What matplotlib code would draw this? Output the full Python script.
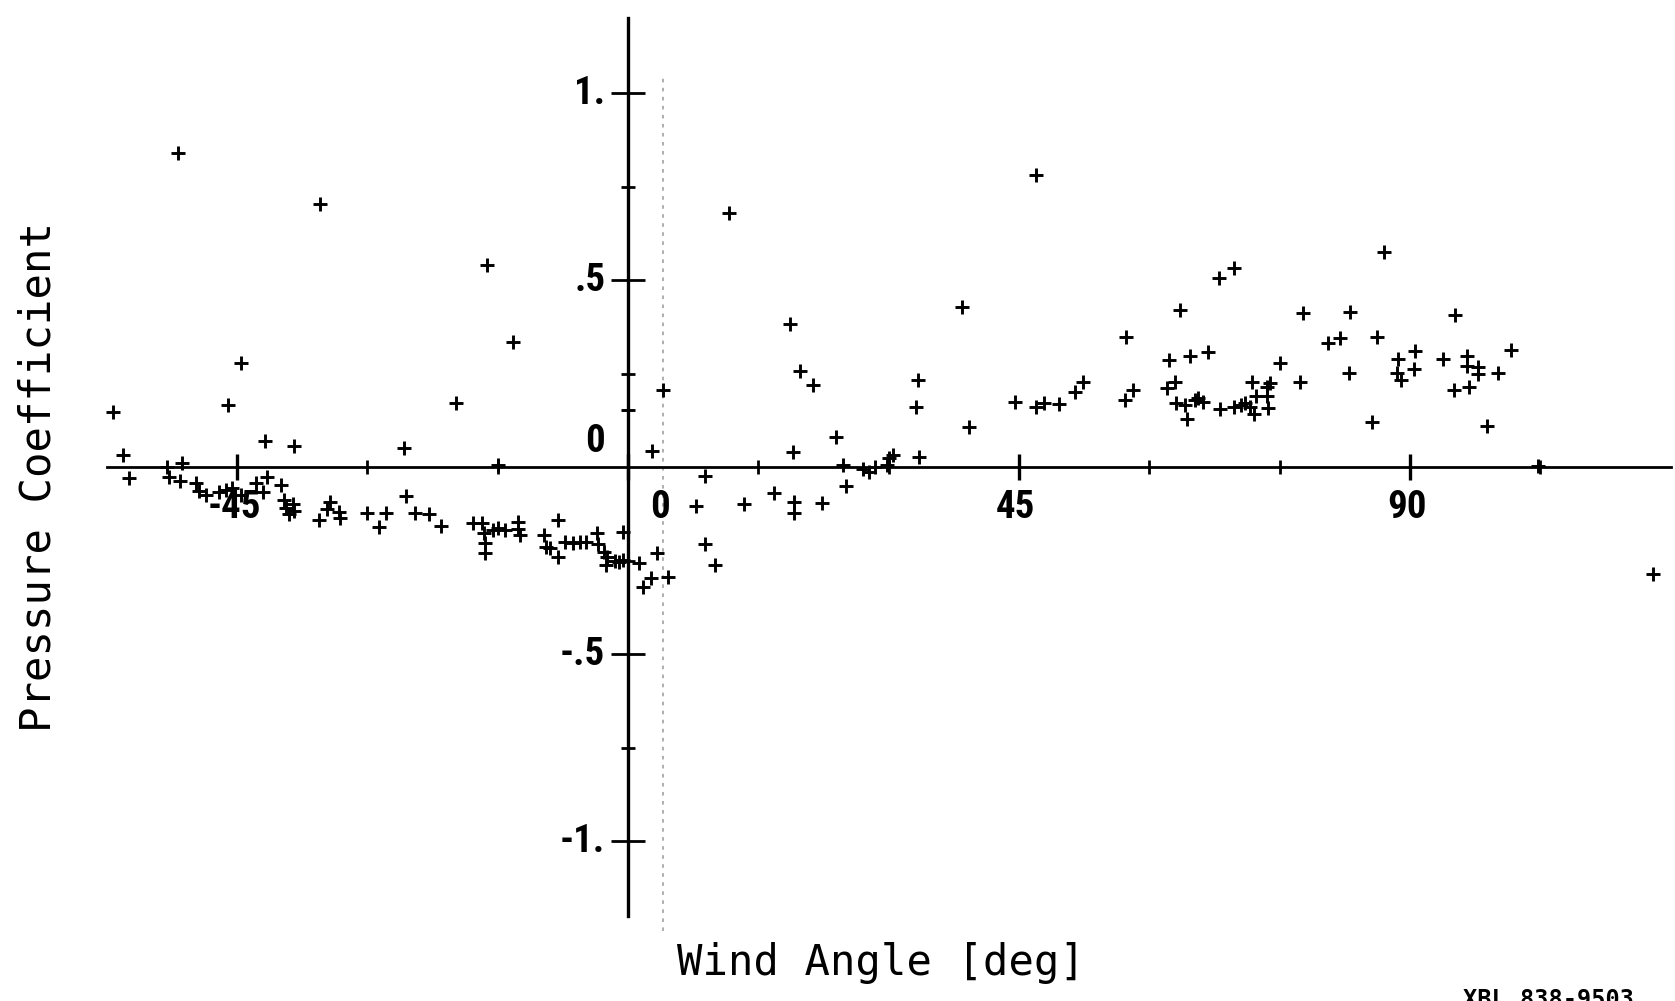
import numpy as np
import matplotlib
matplotlib.use("Agg")
import matplotlib.pyplot as plt
from matplotlib import font_manager

# data
wind_angle = [
    -59.3, -58.1, -57.4, -53.0, -52.8, -51.8, -51.3, -51.5, -49.7, -49.4,
    -48.6, -47.1, -46.3, -45.6, -44.5, -46.0, -44.5, -42.8, -41.5, -42.0,
    -41.8, -39.9, -39.6, -39.4, -38.6, -38.4, -39.0, -38.4, -35.4, -35.5,
    -34.3, -34.6, -33.2, -33.1, -30.0, -28.7, -27.8, -25.8, -25.5, -24.5,
    -22.9, -21.5, -19.8, -17.8, -16.8, -16.6, -16.5, -16.5, -16.2, -15.5,
    -15.0, -14.9, -14.2, -13.2, -12.6, -12.6, -12.4, -9.7, -9.4, -9.0,
    -8.0, -8.0, -7.2, -6.3, -5.5, -4.8, -3.6, -3.5, -2.8, -2.4,
    -2.5, -1.5, -1.0, -0.6, -0.6, 0.0, 1.3, 1.7, 2.8, 2.7,
    3.3, 4.0, 4.6, 7.8, 8.9, 8.9, 10.0, 11.6, 13.3, 16.8,
    18.6, 19.0, 19.1, 19.1, 19.8, 21.3, 22.3, 23.9, 24.8, 25.1,
    27.1, 27.7, 28.4, 29.8, 30.0, 30.5, 33.4, 33.1, 33.5, 38.4,
    39.2, 44.5, 46.9, 47.0, 47.9, 49.6, 51.4, 52.4, 57.2, 58.1,
    57.3, 62.0, 62.2, 62.9, 63.1, 63.5, 64.1, 64.3, 64.7, 65.2,
    65.6, 66.2, 66.7, 68.0, 68.1, 69.7, 69.7, 70.5, 71.0, 71.6,
    71.8, 72.0, 72.3, 73.5, 73.9, 73.5, 73.7, 75.0, 77.3, 77.7,
    80.6, 81.9, 83.1, 83.0, 85.6, 86.2, 87.0, 88.6, 88.5, 89.0,
    90.6, 90.4, 93.8, 95.2, 95.1, 96.5, 96.5, 96.8, 97.8, 97.8,
    98.9, 100.1, 101.6, 104.7, 117.9,
]
pressure_coef = [
    0.148, 0.033, -0.029, 0.0, -0.026, 0.840, 0.012, -0.037, -0.044, -0.063,
    -0.075, -0.066, -0.061, -0.057, -0.075, 0.167, 0.277, -0.044, -0.028, -0.066,
    0.069, -0.047, -0.088, -0.110, -0.100, -0.118, -0.126, 0.055, 0.703, -0.142,
    -0.093, -0.112, -0.120, -0.135, -0.122, -0.160, -0.123, 0.050, -0.077, -0.124,
    -0.125, -0.157, 0.171, -0.151, -0.151, -0.177, -0.204, -0.231, 0.541, -0.168,
    0.005, -0.163, -0.168, 0.333, -0.146, -0.165, -0.182, -0.182, -0.213, -0.216,
    -0.142, -0.240, -0.200, -0.203, -0.200, -0.200, -0.177, -0.205, -0.226, -0.240,
    -0.262, -0.250, -0.255, -0.248, -0.173, 0.153, -0.256, -0.322, 0.042, -0.298,
    -0.231, 0.207, -0.295, -0.105, -0.024, -0.205, -0.262, 0.678, -0.099, -0.069,
    0.383, 0.040, -0.093, -0.122, 0.256, 0.220, -0.097, 0.081, 0.005, -0.051,
    -0.004, -0.012, 0.001, 0.005, 0.023, 0.032, 0.234, 0.161, 0.028, 0.428,
    0.106, 0.175, 0.780, 0.161, 0.172, 0.168, 0.201, 0.228, 0.179, 0.206,
    0.348, 0.210, 0.286, 0.226, 0.170, 0.420, 0.166, 0.128, 0.297, 0.179,
    0.184, 0.175, 0.307, 0.505, 0.155, 0.531, 0.161, 0.167, 0.172, 0.161,
    0.226, 0.142, 0.190, 0.215, 0.224, 0.190, 0.157, 0.279, 0.226, 0.413,
    0.332, 0.344, 0.415, 0.251, 0.121, 0.348, 0.576, 0.290, 0.252, 0.234,
    0.310, 0.261, 0.288, 0.406, 0.206, 0.297, 0.270, 0.215, 0.268, 0.249,
    0.110, 0.252, 0.313, 0.002, -0.285,
]

x_major = [-45, 0, 45, 90]
x_minor = [-30, -15, 15, 30, 60, 75, 105]
y_major = [-1.0, -0.5, 0.5, 1.0]
y_minor = [-0.75, -0.25, 0.25, 0.75]

x_labels = ["-45", "0", "45", "90"]
x_label_pos = [-45.3, 3.7, 44.6, 89.6]
y_labels = ["1.", ".5", "0", "-.5", "-1."]
y_label_val = [1.0, 0.5, 0.067, -0.5, -1.0]

# faint show-through line from the back of the sheet
ghost_x = 4.0
ghost_y = (-1.24, 1.05)

# narrow face for the plotter digits if one is installed
names = {f.name for f in font_manager.fontManager.ttflist}
narrow = [n for n in ["Liberation Sans Narrow", "DejaVu Sans Condensed",
                      "Roboto Condensed", "Open Sans Condensed"] if n in names]
condensed = [f for f in font_manager.fontManager.ttflist
             if f.name == "DejaVu Sans" and f.stretch == "condensed"]
if narrow:
    tick_kw = dict(family=[narrow[0], "DejaVu Sans"], fontsize=28)
elif condensed:
    tick_kw = dict(family=["DejaVu Sans"], stretch="condensed", fontsize=27)
else:
    tick_kw = dict(family=["Roboto", "DejaVu Sans"], fontsize=27)
title_font = ["DejaVu Sans Mono"]

fig = plt.figure(figsize=(16.75, 10.01), dpi=100)
ax = fig.add_axes([0.0636, 0.0851, 0.9339, 0.8967])
ax.set_xlim(-60, 120)
ax.set_ylim(-1.2, 1.2)

for s in ["top", "right"]:
    ax.spines[s].set_visible(False)
ax.spines["left"].set_position(("data", 0))
ax.spines["bottom"].set_position(("data", 0))
ax.spines["left"].set_linewidth(2.4)
ax.spines["bottom"].set_linewidth(2.0)

ax.set_xticks(x_major)
ax.set_xticks(x_minor, minor=True)
ax.set_yticks(y_major)
ax.set_yticks(y_minor, minor=True)
ax.tick_params(axis="x", which="major", direction="inout", length=19, width=2.4, labelbottom=False)
ax.tick_params(axis="x", which="minor", direction="inout", length=9.5, width=2.0)
ax.tick_params(axis="y", which="major", direction="inout", length=24, width=2.0, labelleft=False)
ax.tick_params(axis="y", which="minor", direction="inout", length=10, width=2.0)

ax.plot([ghost_x, ghost_x], ghost_y, color="#a8a8a8", lw=1.3, ls=(0, (2, 3)),
        clip_on=False, zorder=0)

ax.plot(wind_angle, pressure_coef, "+", color="black", markersize=10,
        markeredgewidth=2.1, clip_on=False, zorder=3)

for lab, xp in zip(x_labels, x_label_pos):
    ax.text(xp, -0.108, lab, ha="center", va="center", weight="semibold",
            color="black", **tick_kw)
for lab, yv in zip(y_labels, y_label_val):
    ax.text(-2.6, yv, lab, ha="right", va="center", weight="semibold",
            color="black", **tick_kw)

fig.text(0.526, 0.026, "Wind Angle [deg]", ha="center", va="baseline",
         fontsize=30.4, family=title_font)
fig.text(0.023, 0.5235, "Pressure Coefficient", ha="center", va="center",
         rotation=90, fontsize=30.4, family=title_font)
fig.text(0.8735, 0.013, "XBL 838-9503", ha="left", va="top", fontsize=17,
         family=title_font, weight="bold")

fig.savefig("out.png", dpi=100)
